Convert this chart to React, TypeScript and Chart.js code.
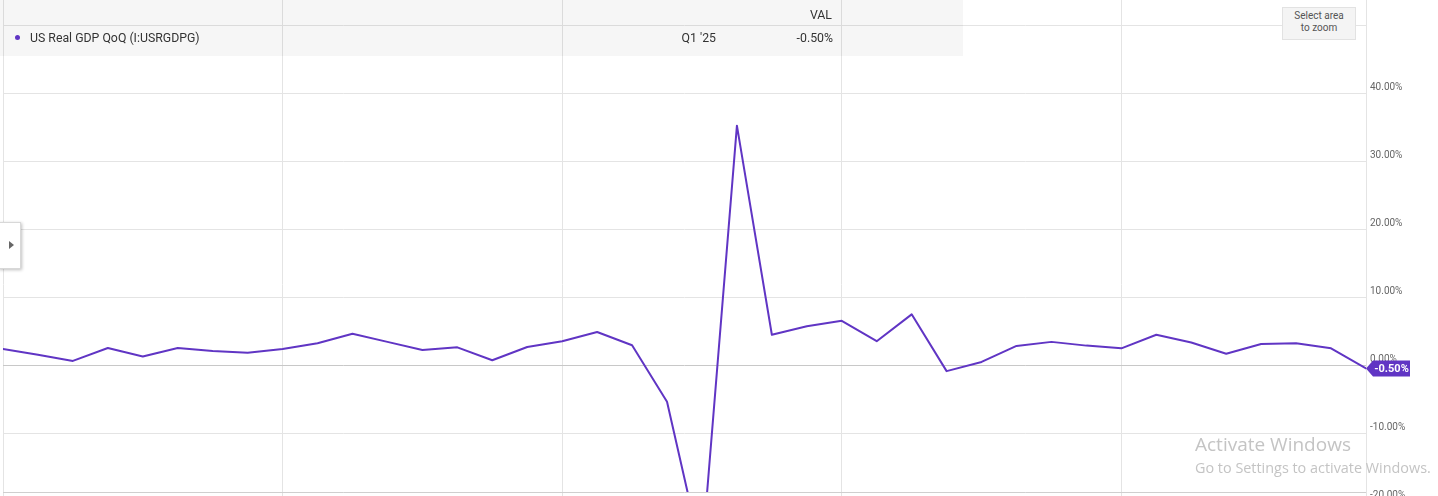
import React, { useEffect, useRef } from "react";
import { Chart, registerables } from "chart.js";

Chart.register(...registerables);

const quarters: string[] = [
  "Q2 '15", "Q3 '15", "Q4 '15",
  "Q1 '16", "Q2 '16", "Q3 '16", "Q4 '16",
  "Q1 '17", "Q2 '17", "Q3 '17", "Q4 '17",
  "Q1 '18", "Q2 '18", "Q3 '18", "Q4 '18",
  "Q1 '19", "Q2 '19", "Q3 '19", "Q4 '19",
  "Q1 '20", "Q2 '20", "Q3 '20", "Q4 '20",
  "Q1 '21", "Q2 '21", "Q3 '21", "Q4 '21",
  "Q1 '22", "Q2 '22", "Q3 '22", "Q4 '22",
  "Q1 '23", "Q2 '23", "Q3 '23", "Q4 '23",
  "Q1 '24", "Q2 '24", "Q3 '24", "Q4 '24",
  "Q1 '25",
];

const gdpQoQ: number[] = [
  2.35, 1.5, 0.6,
  2.5, 1.25, 2.5, 2.05,
  1.8, 2.35, 3.2, 4.6,
  3.4, 2.2, 2.6, 0.7,
  2.65, 3.5, 4.85, 2.9,
  -5.4, -28.0, 35.2, 4.45,
  5.7, 6.5, 3.5, 7.45,
  -0.9, 0.45, 2.8, 3.4,
  2.85, 2.45, 4.45, 3.3,
  1.65, 3.1, 3.2, 2.45,
  -0.5,
];

const yTicks: number[] = [-30, -20, -10, 0, 10, 20, 30, 40, 50];

const seriesName = "US Real GDP QoQ (I:USRGDPG)";
const lastPeriod = "Q1 '25";
const lastValueText = "-0.50%";

const PURPLE = "#6035c4";
const FONT = "Roboto, 'Noto Sans', sans-serif";

const overlayPlugin = {
  id: "overlayPlugin",
  afterDatasetsDraw(chart: any) {
    const ctx = chart.ctx;
    const x = chart.scales.x;
    const y = chart.scales.y;
    const area = chart.chartArea;
    ctx.save();
    ctx.strokeStyle = "#cfcfcf";
    ctx.lineWidth = 1;
    ctx.beginPath();
    ctx.moveTo(area.left, 492.5);
    ctx.lineTo(area.right, 492.5);
    ctx.stroke();

    const n = gdpQoQ.length - 1;
    const px = x.getPixelForValue(n);
    const py = y.getPixelForValue(gdpQoQ[n]);
    ctx.fillStyle = PURPLE;
    ctx.beginPath();
    ctx.moveTo(px, py);
    ctx.lineTo(px + 7, py - 8);
    ctx.lineTo(px + 44, py - 8);
    ctx.lineTo(px + 44, py + 8);
    ctx.lineTo(px + 7, py + 8);
    ctx.closePath();
    ctx.fill();
    ctx.fillStyle = "#ffffff";
    ctx.font = "bold 11px " + FONT;
    ctx.textAlign = "center";
    ctx.textBaseline = "middle";
    ctx.fillText(lastValueText, px + 25.5, py + 0.5);
    ctx.restore();
  },
};

export default function App() {
  const canvasRef = useRef<HTMLCanvasElement | null>(null);

  useEffect(() => {
    if (!canvasRef.current) return;
    const chart = new Chart(canvasRef.current, {
      type: "line",
      data: {
        labels: quarters,
        datasets: [
          {
            label: seriesName,
            data: gdpQoQ,
            borderColor: PURPLE,
            borderWidth: 2,
            borderJoinStyle: "round",
            borderCapStyle: "round",
            pointRadius: 0,
            tension: 0,
            fill: false,
            clip: { left: 0, top: 0, right: 0, bottom: -77 } as any,
          },
        ],
      },
      options: {
        animation: false,
        responsive: false,
        layout: { padding: { left: 3, right: 0, top: 0, bottom: 0 } },
        plugins: {
          legend: { display: false },
          tooltip: { enabled: false },
        },
        scales: {
          x: {
            type: "category",
            offset: false,
            ticks: { display: false, autoSkip: false },
            border: { display: false },
            grid: {
              drawTicks: false,
              color: (c: any) => (c.index % 8 === 0 ? "#e4e4e4" : "rgba(0,0,0,0)"),
            },
            afterFit: (s: any) => {
              s.height = 0;
              s.paddingLeft = 0;
              s.paddingRight = 0;
            },
          },
          y: {
            position: "right",
            min: -30,
            max: 365 / 6.8,
            afterBuildTicks: (s: any) => {
              s.ticks = yTicks.map((v) => ({ value: v }));
            },
            afterFit: (s: any) => {
              s.width = 72;
              s.paddingTop = 0;
              s.paddingBottom = 0;
            },
            border: { display: true, color: "#e4e4e4" },
            grid: {
              drawTicks: false,
              color: (c: any) =>
                c.tick && c.tick.value === 0 ? "#c8c8c8" : "#e4e4e4",
            },
            ticks: {
              padding: 4,
              labelOffset: -6,
              color: "#666666",
              font: { family: FONT, size: 10 },
              callback: (v: any) => (Number(v) === 50 ? "" : Number(v).toFixed(2) + "%"),
            },
          },
        },
      },
      plugins: [overlayPlugin],
    });
    return () => chart.destroy();
  }, []);

  const txt = (extra: any): any => ({
    position: "absolute",
    fontFamily: FONT,
    fontSize: 12.3,
    color: "#333",
    whiteSpace: "nowrap",
    lineHeight: "14px",
    ...extra,
  });

  return (
    <div
      style={{
        position: "absolute",
        left: 0,
        top: 0,
        width: 1438,
        height: 496,
        overflow: "hidden",
        background: "#fff",
      }}
    >
      <canvas
        ref={canvasRef}
        width={1438}
        height={569}
        style={{ position: "absolute", left: 0, top: 0, width: 1438, height: 569 }}
      />
      <div
        style={{
          position: "absolute",
          left: 0,
          top: 0,
          width: 963,
          height: 56,
          background: "rgba(0,0,0,0.034)",
        }}
      />
      <div
        style={{
          position: "absolute",
          left: 14.5,
          top: 34.5,
          width: 5,
          height: 5,
          borderRadius: "50%",
          background: PURPLE,
        }}
      />
      <span style={txt({ left: 30, top: 31 })}>{seriesName}</span>
      <span style={txt({ left: 632, top: 8, width: 200, textAlign: "right" })}>VAL</span>
      <span style={txt({ left: 516, top: 31, width: 200, textAlign: "right" })}>{lastPeriod}</span>
      <span style={txt({ left: 633, top: 31, width: 200, textAlign: "right" })}>{lastValueText}</span>
      <div
        style={{
          position: "absolute",
          left: 1282,
          top: 7,
          width: 72,
          height: 29,
          background: "#f4f4f4",
          border: "1px solid #e2e2e2",
          fontFamily: FONT,
          fontSize: 10,
          lineHeight: "12px",
          color: "#555",
          textAlign: "center",
          paddingTop: 2,
          boxSizing: "content-box",
        }}
      >
        Select area
        <br />
        to zoom
      </div>
      <div
        style={{
          position: "absolute",
          left: -2,
          top: 222,
          width: 21,
          height: 45,
          background: "#fff",
          border: "1px solid #d8d8d8",
          boxShadow: "1px 1px 3px rgba(0,0,0,0.25)",
        }}
      >
        <div
          style={{
            position: "absolute",
            left: 10,
            top: 18,
            width: 0,
            height: 0,
            borderTop: "4px solid transparent",
            borderBottom: "4px solid transparent",
            borderLeft: "5px solid #666",
          }}
        />
      </div>
      <span
        style={{
          position: "absolute",
          left: 1195,
          top: 432,
          fontFamily: "'Open Sans', sans-serif",
          fontSize: 19,
          color: "#c4c4c4",
          whiteSpace: "nowrap",
          lineHeight: "24px",
        }}
      >
        Activate Windows
      </span>
      <span
        style={{
          position: "absolute",
          left: 1195,
          top: 458,
          fontFamily: "'Open Sans', sans-serif",
          fontSize: 14.4,
          color: "#c4c4c4",
          whiteSpace: "nowrap",
          lineHeight: "20px",
        }}
      >
        Go to Settings to activate Windows.
      </span>
    </div>
  );
}
